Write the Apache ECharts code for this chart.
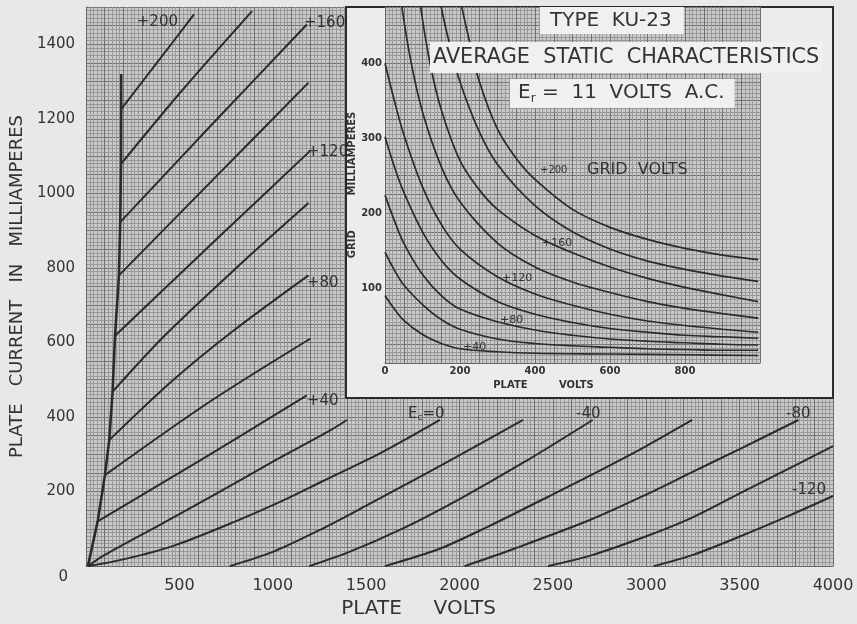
<!DOCTYPE html>
<html>
<head>
<meta charset="utf-8">
<title>KU-23 characteristics</title>
<script src="https://cdn.jsdelivr.net/npm/echarts@6/dist/echarts.min.js"></script>
<style>
  html, body { margin: 0; padding: 0; background: #e8e8e8; }
  #chart { width: 857px; height: 624px; }
</style>
</head>
<body>
<div id="chart"></div>
<script>
// main plot: plate current (mA) against plate volts, one line per grid voltage
const knee = [[10, 0], [62, 120], [101, 244], [124, 338], [142, 468], [155, 618], [176, 780], [183, 923], [187, 1079], [188, 1226], [188, 1320]]
const gp200 = [[188, 1226], [382, 1352], [578, 1480]]
const gp180 = [[187, 1079], [507, 1272], [889, 1489]]
const gp160 = [[183, 923], [684, 1190], [1182, 1453]]
const gp140 = [[176, 780], [684, 1039], [1191, 1297]]
const gp120 = [[155, 618], [684, 870], [1200, 1114]]
const gp100 = [[142, 468], [420, 618], [800, 798], [1191, 974]]
const gp80 = [[124, 338], [450, 492], [780, 628], [1191, 780]]
const gp60 = [[101, 244], [650, 437], [1200, 610]]
const gp40 = [[62, 120], [649, 295], [1182, 458]]
const gp20 = [[10, 0], [100, 30], [400, 112], [700, 195], [1000, 280], [1307, 364], [1397, 392]]
const g0 = [[10, 0], [200, 18], [471, 55], [800, 120], [1050, 175], [1264, 227], [1584, 305], [1895, 392]]
const gm20 = [[770, 0], [1000, 38], [1264, 100], [1500, 162], [1800, 243], [2100, 325], [2340, 392]]
const gm40 = [[1195, 0], [1400, 36], [1700, 102], [2000, 180], [2350, 280], [2713, 392]]
const gm60 = [[1600, 0], [1900, 48], [2153, 106], [2450, 180], [2704, 244], [3000, 322], [3246, 392]]
const gm80 = [[2027, 0], [2300, 48], [2704, 125], [3000, 192], [3237, 250], [3500, 314], [3815, 392]]
const gm100 = [[2474, 0], [2700, 28], [3000, 80], [3237, 128], [3500, 195], [3750, 258], [4000, 322]]
const gm120 = [[3040, 0], [3250, 30], [3504, 80], [3750, 132], [4000, 188]]

// inset: grid current (mA) against plate volts
const ig200 = [[190, 520], [205, 475], [225, 430], [250, 378], [300, 312], [350, 273], [400, 245], [500, 205], [600, 181], [700, 165], [800, 153], [900, 144], [995, 138]]
const ig180 = [[138, 520], [150, 475], [175, 420], [200, 375], [250, 310], [300, 265], [400, 210], [500, 175], [600, 152], [700, 136], [800, 125], [900, 116], [995, 109]]
const ig160 = [[85, 520], [95, 475], [120, 400], [150, 338], [200, 270], [250, 232], [300, 205], [400, 170], [500, 147], [600, 128], [700, 113], [800, 101], [900, 91], [995, 82]]
const ig140 = [[35, 520], [45, 475], [70, 400], [100, 335], [150, 262], [200, 215], [300, 160], [400, 128], [500, 108], [600, 94], [700, 82], [800, 73], [900, 66], [995, 60]]
const ig120 = [[0, 400], [25, 350], [50, 305], [100, 235], [150, 185], [200, 152], [300, 115], [400, 92], [500, 77], [600, 65], [700, 56], [800, 50], [900, 45], [995, 41]]
const ig100 = [[0, 302], [25, 262], [50, 228], [100, 175], [150, 137], [200, 112], [300, 82], [400, 65], [500, 54], [600, 46], [700, 41], [800, 37], [900, 35], [995, 33]]
const ig80 = [[0, 224], [25, 190], [50, 160], [100, 118], [150, 90], [200, 72], [300, 55], [400, 44], [500, 37], [600, 32], [700, 29], [800, 27], [900, 25], [995, 24]]
const ig60 = [[0, 148], [25, 124], [50, 104], [100, 78], [150, 58], [200, 45], [300, 32], [400, 26], [500, 23], [600, 21], [700, 19], [800, 18], [900, 17], [995, 17]]
const ig40 = [[0, 90], [25, 72], [50, 57], [100, 38], [150, 26], [200, 19], [300, 15], [400, 13], [600, 12], [800, 11], [995, 10]]

// tick label steps (grid lines are finer than the labels)
const mainXLabelStep = 500
const mainYLabelStep = 200
const insetXLabelStep = 200
const insetYLabelStep = 100

const ink = '#333'
const font = 'DejaVu Sans'

function paperAxis (gridIndex, min, max, step, zlevel, label) {
  return {
    type: 'value',
    gridIndex: gridIndex,
    min: min,
    max: max,
    interval: step,
    zlevel: zlevel,
    z: 2,
    axisLine: { show: true, lineStyle: { color: '#666', width: 1 } },
    axisTick: { show: false },
    splitLine: { show: true, lineStyle: { color: '#707070', width: 1 } },
    minorTick: { show: false, splitNumber: 5 },
    minorSplitLine: { show: true, lineStyle: { color: '#999', width: 1 } },
    axisLabel: label
  }
}

function line (data, xi, width, smooth) {
  return {
    type: 'line',
    xAxisIndex: xi,
    yAxisIndex: xi,
    data: data,
    showSymbol: false,
    smooth: smooth,
    silent: true,
    zlevel: xi,
    z: 3,
    lineStyle: { color: '#2b2b2b', width: width }
  }
}

function tag (text, x, y, size, align, zlevel) {
  return {
    type: 'text',
    x: x,
    y: y,
    zlevel: zlevel,
    z: 10,
    style: {
      text: text,
      font: size + 'px "' + font + '"',
      fill: ink,
      align: align || 'left',
      verticalAlign: 'middle'
    }
  }
}

let chart = echarts.init(document.getElementById('chart'))

let mainCurves = [gp200, gp180, gp160, gp140, gp120, gp100, gp80, gp60, gp40, gp20, g0, gm20, gm40, gm60, gm80, gm100, gm120]
let insetCurves = [ig200, ig180, ig160, ig140, ig120, ig100, ig80, ig60, ig40]

let series = [line(knee, 0, 2.6, false)]
mainCurves.forEach(d => series.push(line(d, 0, 2, 0.3)))
insetCurves.forEach(d => series.push(line(d, 1, 1.7, 0.35)))

let option = {
  backgroundColor: '#e8e8e8',
  animation: false,
  textStyle: { fontFamily: font },
  title: [
    {
      text: 'TYPE  KU-23',
      left: 540, top: 7,
      zlevel: 1, z: 6,
      backgroundColor: '#f0f0f0',
      padding: [4, 12, 3, 10],
      textStyle: { fontSize: 20, fontWeight: 'normal', color: ink, fontFamily: font }
    },
    {
      text: 'AVERAGE  STATIC  CHARACTERISTICS',
      left: 430, top: 42,
      zlevel: 1, z: 6,
      backgroundColor: '#f0f0f0',
      padding: [5, 3, 5, 3],
      textStyle: { fontSize: 20.8, fontWeight: 'normal', color: ink, fontFamily: font }
    },
    {
      text: '{e|E}{s|r}{e| =  11  VOLTS  A.C.}',
      left: 510, top: 77,
      zlevel: 1, z: 6,
      backgroundColor: '#f0f0f0',
      padding: [4, 10, 3, 8],
      textStyle: {
        fontSize: 20, fontWeight: 'normal', color: ink, fontFamily: font,
        rich: {
          e: { fontSize: 20, color: ink, fontFamily: font },
          s: { fontSize: 12, color: ink, fontFamily: font, padding: [12, 0, 0, 0] }
        }
      }
    }
  ],
  grid: [
    { left: 83, right: 24, top: 7, bottom: 56, show: true, backgroundColor: '#cacaca', borderWidth: 0 },
    { left: 385, right: 97, top: 7, bottom: 261, show: true, backgroundColor: '#cacaca', borderWidth: 0, zlevel: 1, z: 1 }
  ],
  xAxis: [
    Object.assign(paperAxis(0, 0, 4000, 100, 0, {
      margin: 12, fontSize: 16, color: ink, fontFamily: font,
      formatter: v => (v > 0 && v % mainXLabelStep === 0) ? String(v) : ''
    }), {
      name: 'PLATE     VOLTS',
      nameLocation: 'middle',
      nameGap: 29,
      nameTextStyle: { fontSize: 20, color: ink, fontFamily: font, padding: [0, 82, 0, 0] }
    }),
    Object.assign(paperAxis(1, 0, 1000, 50, 1, {
      margin: 3, fontSize: 10, fontWeight: 'bold', color: ink, fontFamily: font,
      formatter: v => (v < 1000 && v % insetXLabelStep === 0) ? String(v) : ''
    }), {
      name: 'PLATE         VOLTS',
      nameLocation: 'middle',
      nameGap: 16,
      nameTextStyle: { fontSize: 10, fontWeight: 'bold', color: ink, fontFamily: font, padding: [0, 58, 0, 0] }
    })
  ],
  yAxis: [
    Object.assign(paperAxis(0, 0, 1500, 50, 0, {
      margin: 11, fontSize: 15, color: ink, fontFamily: font,
      formatter: v => v === 0 ? '{z|0}' : (v % mainYLabelStep === 0 ? String(v) : ''),
      rich: { z: { fontSize: 15, color: ink, fontFamily: font, padding: [22, 7, 0, 0] } }
    }), {
      name: 'PLATE   CURRENT   IN   MILLIAMPERES',
      nameLocation: 'middle',
      nameGap: 55,
      nameTextStyle: { fontSize: 18, color: ink, fontFamily: font }
    }),
    Object.assign(paperAxis(1, 0, 475, 25, 1, {
      margin: 3, fontSize: 10, fontWeight: 'bold', color: ink, fontFamily: font,
      formatter: v => (v > 0 && v % insetYLabelStep === 0) ? String(v) : ''
    }), {
      name: 'GRID          MILLIAMPERES',
      nameLocation: 'middle',
      nameGap: 25,
      nameTextStyle: { fontSize: 10, fontWeight: 'bold', color: ink, fontFamily: font }
    })
  ],
  graphic: [
    {
      type: 'rect',
      zlevel: 1,
      z: 0,
      shape: { x: 346, y: 7, width: 487, height: 391 },
      style: { fill: '#ececec', stroke: '#2b2b2b', lineWidth: 2 }
    },
    tag('+200', 178, 22, 15, 'right', 0),
    tag('+160', 304, 23, 15, 'left', 0),
    tag('+120', 307, 152, 15, 'left', 0),
    tag('+80', 307, 283, 15, 'left', 0),
    tag('+40', 307, 401, 15, 'left', 0),
    {
      type: 'text',
      x: 408,
      y: 414,
      z: 10,
      style: {
        text: '{e|E}{s|c}{e|=0}',
        fill: ink,
        verticalAlign: 'middle',
        rich: {
          e: { fontSize: 15, fontFamily: font, fill: ink },
          s: { fontSize: 9, fontFamily: font, fill: ink, padding: [7, 0, 0, 0] }
        }
      }
    },
    tag('-40', 576, 414, 15, 'left', 0),
    tag('-80', 786, 414, 15, 'left', 0),
    tag('-120', 792, 490, 15, 'left', 0),
    tag('+200', 540, 170, 10, 'left', 1),
    tag('GRID  VOLTS', 587, 170, 16, 'left', 1),
    tag('+160', 542, 243, 11, 'left', 1),
    tag('+120', 502, 278, 11, 'left', 1),
    tag('+80', 500, 320, 11, 'left', 1),
    tag('+40', 463, 347, 11, 'left', 1)
  ],
  series: series
}

chart.setOption(option)
</script>
</body>
</html>
